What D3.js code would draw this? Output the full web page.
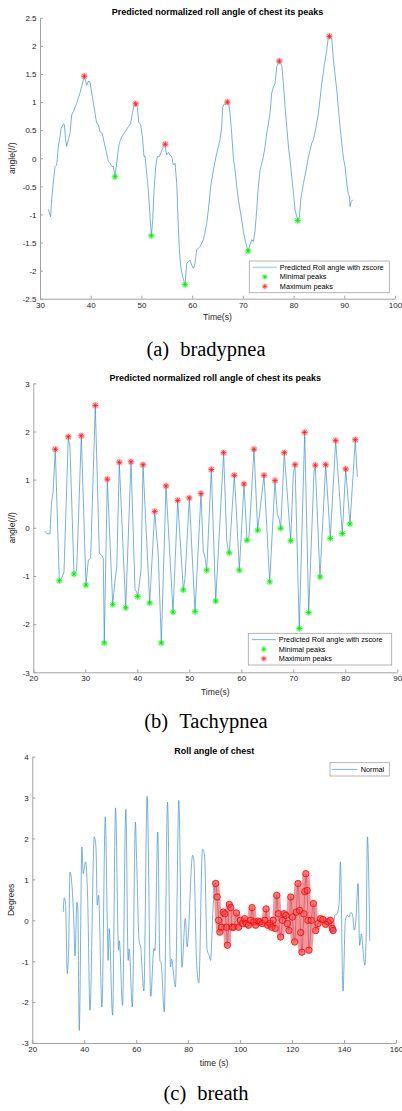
<!DOCTYPE html>
<html>
<head>
<meta charset="utf-8">
<script src="https://cdn.jsdelivr.net/npm/d3@7"></script>
<style>
  html, body { margin: 0; padding: 0; background: #fff; }
  svg { display: block; font-family: "Liberation Sans", Arial, Helvetica, sans-serif; }
</style>
</head>
<body>
<svg id="fig" width="402" height="1111"></svg>
<script>
// ---------- (a) bradypnea ----------
const timeA = [31.64, 32.1, 32.3, 32.63, 32.96, 33.29, 33.42, 33.62, 33.94, 34.14, 34.6, 34.8, 35.06, 35.26, 35.59, 35.92, 36.25, 36.57, 37.23, 37.89, 38.35, 38.74, 39.2, 39.53, 39.86, 40.32, 40.85, 41.18, 41.51, 41.83, 42.29, 42.82, 43.28, 43.48, 43.81, 44.2, 44.46, 44.79, 45.12, 45.45, 45.65, 46.11, 46.77, 47.42, 47.88, 48.21, 48.54, 48.87, 49.2, 49.46, 49.86, 50.25, 50.51, 50.71, 51.3, 51.7, 51.96, 52.22, 52.49, 52.81, 53.14, 53.54, 54.33, 54.59, 54.98, 55.31, 55.64, 55.97, 56.3, 56.63, 56.96, 57.28, 57.48, 57.75, 58.14, 58.6, 58.93, 59.26, 59.59, 59.91, 60.24, 60.57, 60.9, 61.56, 62.22, 62.87, 63.2, 63.66, 64.19, 64.71, 65.5, 65.83, 66.03, 66.29, 66.69, 66.95, 67.21, 67.48, 67.8, 68.13, 68.46, 68.79, 69.12, 69.45, 69.78, 70.11, 70.43, 70.76, 71.03, 71.42, 71.75, 72.08, 72.41, 72.73, 73.06, 73.39, 74.05, 74.38, 74.71, 75.36, 75.69, 76.02, 76.35, 76.68, 77.21, 77.67, 78.0, 78.32, 78.65, 79.05, 79.31, 79.64, 79.97, 80.3, 80.82, 81.15, 81.41, 81.94, 82.47, 82.93, 83.12, 83.58, 83.91, 84.44, 84.9, 85.56, 86.02, 86.54, 86.87, 87.2, 87.53, 87.86, 88.51, 89.17, 89.5, 89.83, 90.16, 90.49, 90.82, 91.01, 91.14, 91.34, 91.67];
const angleA = [-0.91, -1.04, -0.74, -0.42, -0.15, -0.12, 0, 0.22, 0.38, 0.53, 0.61, 0.6, 0.33, 0.21, 0.33, 0.44, 0.77, 0.83, 0.98, 1.16, 1.33, 1.46, 1.30, 1.37, 1.36, 1.10, 0.80, 0.62, 0.60, 0.47, 0.44, 0.21, 0.03, -0.06, -0.09, -0.15, -0.14, -0.33, -0.09, 0.15, 0.27, 0.38, 0.47, 0.56, 0.62, 0.80, 0.93, 0.97, 0.91, 0.64, 0.60, 0.33, 0.03, 0.04, -0.5, -1.04, -1.38, -1.10, -0.57, -0.15, 0.03, 0.03, 0.21, 0.25, 0.06, 0.10, 0.06, 0.03, -0.12, -0.09, -0.45, -1.22, -1.63, -1.93, -2.11, -2.25, -1.87, -1.84, -1.81, -1.90, -1.96, -1.87, -1.63, -1.57, -1.45, -1.16, -0.92, -0.50, -0.21, 0.03, 0.33, 0.56, 0.91, 0.96, 0.97, 1.0, 0.97, 0.80, 0.44, 0, -0.21, -0.50, -0.74, -0.92, -1.10, -1.31, -1.45, -1.57, -1.65, -1.54, -1.45, -1.48, -1.28, -0.92, -0.50, -0.21, 0.03, 0.21, 0.44, 0.80, 1.16, 1.27, 1.33, 1.63, 1.73, 1.65, 1.33, 0.91, 0.56, 0.15, -0.03, -0.33, -0.62, -0.92, -1.11, -1.04, -0.74, -0.45, -0.21, 0.03, 0.09, 0.27, 0.33, 0.56, 0.80, 1.33, 1.63, 1.93, 2.16, 2.17, 2.13, 1.75, 1.22, 0.56, 0.27, 0, -0.15, -0.45, -0.65, -0.67, -0.86, -0.77, -0.74];
const maxTimeA = [38.74, 48.87, 54.7, 66.95, 77.2, 87.07];
const maxAngleA = [1.46, 0.97, 0.25, 1.0, 1.73, 2.17];
const minTimeA = [44.79, 51.96, 58.6, 71.03, 80.82];
const minAngleA = [-0.33, -1.38, -2.25, -1.65, -1.11];
const xTicksA = [30, 40, 50, 60, 70, 80, 90, 100];
const yTicksA = [-2.5, -2, -1.5, -1, -0.5, 0, 0.5, 1, 1.5, 2, 2.5];
const yTickLabelsA = ["-2.5", "-2", "-1.5", "-1", "-0.5", "0", "0.5", "1", "1.5", "2", "2.5"];

// ---------- (b) tachypnea ----------
const timeB = [22.25, 22.6, 23.2, 23.5, 23.8, 24.23, 25.0, 25.45, 25.9, 26.73, 27.05, 27.83, 28.35, 29.23, 30.13, 30.58, 31.03, 31.92, 32.7, 33.15, 33.46, 33.65, 34.23, 35.27, 35.73, 36.05, 36.54, 37.77, 38.79, 39.56, 39.88, 40.08, 40.72, 41.1, 42.38, 43.35, 44.03, 44.62, 45.52, 46.87, 47.77, 48.85, 49.18, 50.0, 51.1, 52.25, 52.69, 53.0, 53.35, 54.23, 55.08, 56.6, 57.2, 57.5, 57.69, 58.66, 58.98, 59.62, 60.52, 61.1, 61.5, 62.44, 63.15, 64.37, 65.46, 66.48, 66.92, 67.3, 67.58, 68.27, 69.5, 70.0, 70.33, 71.15, 72.19, 72.96, 73.98, 74.23, 75.13, 76.23, 77.12, 78.15, 79.42, 80.08, 80.9, 81.92, 82.31];
const angleB = [-0.07, -0.12, -0.13, 0.52, 0.73, 1.63, -1.10, -1.05, -0.92, 1.89, 1.68, -0.96, -0.88, 1.91, -1.19, -0.67, -0.63, 2.54, -0.53, -0.57, -0.63, -2.39, 1.01, -1.59, -1.08, -0.82, 1.36, -1.66, 1.37, -1.28, -1.33, -1.43, -0.88, 1.31, -1.56, 0.34, -0.57, -2.39, 0.87, -1.75, 0.57, -1.29, -1.05, 0.62, -1.74, 0.71, -0.49, -0.6, -0.88, 1.21, -1.52, 1.56, -0.26, -0.47, -0.52, 1.09, 0.5, -0.88, 0.91, -0.26, -0.17, 1.63, -0.05, 1.09, -1.12, 0.98, 0.3, 0.17, -0.01, 1.56, -0.27, 1.13, 1.31, -2.09, 1.98, -1.76, 1.16, 1.30, -1.02, 1.31, -0.22, 1.81, -0.12, 1.22, 0.08, 1.83, 1.06];
const maxTimeB = [24.23, 26.73, 29.23, 31.92, 34.23, 36.54, 38.79, 41.1, 43.35, 45.52, 47.77, 50.0, 52.25, 54.23, 56.6, 58.66, 60.52, 62.44, 64.37, 66.48, 68.27, 70.33, 72.19, 74.23, 76.23, 78.15, 80.08, 81.92];
const maxAngleB = [1.63, 1.89, 1.91, 2.54, 1.01, 1.36, 1.37, 1.31, 0.34, 0.87, 0.57, 0.62, 0.71, 1.21, 1.56, 1.09, 0.91, 1.63, 1.09, 0.98, 1.56, 1.31, 1.98, 1.30, 1.31, 1.81, 1.22, 1.83];
const minTimeB = [25.0, 27.83, 30.13, 33.65, 35.27, 37.77, 40.08, 42.38, 44.62, 46.87, 48.85, 51.1, 53.35, 55.08, 57.69, 59.62, 61.1, 63.15, 65.46, 67.58, 69.5, 71.15, 72.96, 75.13, 77.12, 79.42, 80.9];
const minAngleB = [-1.10, -0.96, -1.19, -2.39, -1.59, -1.66, -1.43, -1.56, -2.39, -1.75, -1.29, -1.74, -0.88, -1.52, -0.52, -0.88, -0.26, -0.05, -1.12, -0.01, -0.27, -2.09, -1.76, -1.02, -0.22, -0.12, 0.08];
const xTicksB = [20, 30, 40, 50, 60, 70, 80, 90];
const yTicksB = [-3, -2, -1, 0, 1, 2, 3];
const yTickLabelsB = ["-3", "-2", "-1", "0", "1", "2", "3"];

// ---------- (c) breath ----------
const timeC = [31.92, 32.3, 32.8, 33.46, 34.0, 34.5, 35.1, 36.0, 36.45, 37.18, 37.5, 38.08, 39.1, 39.6, 40.5, 41.3, 42.2, 43.85, 44.5, 45.0, 45.5, 46.8, 48.1, 48.85, 49.2, 49.6, 50.9, 52.05, 53.2, 53.5, 54.74, 56.0, 56.9, 57.3, 58.5, 59.7, 60.1, 61.15, 61.7, 62.95, 64.2, 65.6, 66.8, 67.2, 68.3, 69.1, 69.6, 70.8, 72.05, 73.2, 73.6, 75.1, 76.4, 77.6, 78.9, 79.6, 81.7, 82.2, 83.2, 84.1, 85.5, 86.3, 87.3, 88.1, 88.6, 89.6, 90.3,
  90.6, 91.15, 91.7, 92.2, 92.8, 93.5, 94.1, 94.7, 95.1, 95.8, 96.4, 96.9, 97.6, 98.6, 99.4, 100.1, 100.9, 101.7, 102.4, 103.2, 104.0, 104.6, 105.3, 106.0, 106.9, 107.6, 108.5, 109.5, 110.0, 110.6, 111.4, 112.1, 112.7, 113.5, 114.1, 114.7, 115.6, 116.3, 116.9, 117.6, 118.2, 118.8, 119.5, 120.1, 121.0, 121.6, 122.3, 122.9, 123.3, 123.8, 124.5, 124.9, 125.3, 125.8, 126.1, 126.5, 127.4, 128.2, 129.1, 130.0, 130.9, 131.9, 132.9, 133.8, 134.7, 135.5, 135.8,
  136.4, 137.3, 138.1, 138.6, 139.6, 140.5, 141.3, 141.9, 142.6, 143.2, 144.0, 144.5, 145.4, 146.0, 146.7, 147.3, 148.0, 148.5, 149.0, 149.9];
const angleC = [0.2, 0.55, 0.41, -1.30, -0.65, 1.18, 0.98, -0.06, -0.87, 0.44, 0.3, -2.69, 1.79, 1.14, 1.43, 0.57, -2.2, 2.04, 1.79, 0.37, 0.61, -2.12, 2.53, 0.0, -0.98, -0.2, -2.32, 2.75, -0.73, -0.5, -2.08, 2.71, -0.98, -0.7, -2.12, 2.4, 1.6, -0.53, -0.65, -1.73, 3.03, -1.86, -0.69, -0.75, 2.16, -0.98, -1.05, -2.24, 2.89, -1.14, -0.95, -1.63, 2.93, -1.15, 0.05, -0.65, 1.59, 1.47, -0.98, -1.53, 1.74, 1.58, -0.73, -0.86, -0.98, 0.32, 0.9,
  0.9, 0.57, 0.0, -0.29, -0.17, 0.2, 0.16, -0.17, -0.61, 0.39, 0.31, -0.17, -0.17, 0.18, -0.17, 0.0, -0.08, 0.04, -0.08, -0.12, 0.0, 0.31, -0.04, -0.12, -0.02, -0.04, -0.08, 0.0, 0.28, -0.12, -0.08, -0.17, 0.0, -0.2, 0.61, 0.16, -0.41, 0.0, 0.16, 0.12, -0.08, -0.25, 0.57, 0.08, -0.53, 0.2, 0.9, 0.24, -0.3, -0.78, 0.16, 0.7, 1.14, 0.73, 0.0, -0.73, 0.0, 0.41, -0.25, -0.08, 0.04, 0.02, -0.1, -0.04, 0.0, -0.2, -0.25,
  0.12, 0.16, 0.41, 1.43, -1.73, 0.0, 0.12, 0.08, 0.19, 0.15, -0.24, -0.04, 0.9, -0.61, -0.33, -0.73, -1.1, -0.4, 2.04, -0.5];
const highlightC = [90.6, 135.8];   // time window whose samples are marked in red
const xTicksC = [20, 40, 60, 80, 100, 120, 140, 160];
const yTicksC = [-3, -2, -1, 0, 1, 2, 3, 4];
const yTickLabelsC = ["-3", "-2", "-1", "0", "1", "2", "3", "4"];

// ---------- drawing ----------
const svg = d3.select("#fig");
const LINE_BLUE = "#2f88cc";
const AXIS_GREY = "#a3a3a3";
const TEXT_GREY = "#262626";
const TICK_FONT = 8;
const LABEL_FONT = 8.6;
const TITLE_FONT = 9;
const LEGEND_FONT = 7.3;

function asteriskPath(s) {
  const k = s * 0.72;
  return `M${-s},0L${s},0M0,${-s}L0,${s}M${-k},${-k}L${k},${k}M${-k},${k}L${k},${-k}`;
}

function drawAsterisks(g, x, y, ts, vs, color, halo) {
  const pts = d3.zip(ts, vs);
  g.append("g").selectAll("circle").data(pts).join("circle")
    .attr("cx", d => x(d[0])).attr("cy", d => y(d[1]))
    .attr("r", 3.5).attr("fill", halo).attr("opacity", 0.45);
  g.append("g").selectAll("path").data(pts).join("path")
    .attr("transform", d => `translate(${x(d[0])},${y(d[1])})`)
    .attr("d", asteriskPath(2.7))
    .attr("stroke", color).attr("stroke-width", 0.8).attr("fill", "none");
}

function drawAxes(g, x, y, p) {
  const bottom = g.append("g")
    .attr("transform", `translate(0,${p.bottom})`)
    .call(d3.axisBottom(x).tickValues(p.xTicks).tickFormat(d3.format("d"))
      .tickSizeInner(-3).tickSizeOuter(0).tickPadding(3.5));
  const left = g.append("g")
    .attr("transform", `translate(${p.left},0)`)
    .call(d3.axisLeft(y).tickValues(p.yTicks).tickFormat((d, i) => p.yLabels[i])
      .tickSizeInner(-3).tickSizeOuter(0).tickPadding(3.5));
  [bottom, left].forEach(a => {
    a.select(".domain").attr("stroke", AXIS_GREY).attr("stroke-width", 1);
    a.selectAll(".tick line").attr("stroke", AXIS_GREY).attr("stroke-width", 1);
    a.selectAll(".tick text").attr("fill", TEXT_GREY).attr("font-size", TICK_FONT)
      .attr("font-family", "Liberation Sans, Arial, sans-serif");
  });
  left.selectAll(".tick text").attr("dy", "0.35em");
}

function drawTexts(g, p) {
  const cx = (p.left + p.right) / 2;
  g.append("text").attr("x", cx).attr("y", p.titleY).attr("text-anchor", "middle")
    .attr("font-weight", "bold").attr("font-size", TITLE_FONT).attr("fill", "#000").text(p.title);
  g.append("text").attr("x", cx).attr("y", p.xLabelY).attr("text-anchor", "middle")
    .attr("font-size", LABEL_FONT).attr("fill", TEXT_GREY).text(p.xLabel);
  g.append("text").attr("transform", `translate(${p.yLabelX},${(p.top + p.bottom) / 2}) rotate(-90)`)
    .attr("text-anchor", "middle").attr("font-size", LABEL_FONT).attr("fill", TEXT_GREY).text(p.yLabel);
  const cap = g.append("text").attr("x", 206).attr("y", p.captionY).attr("text-anchor", "middle")
    .attr("font-family", "Liberation Serif, Times New Roman, serif").attr("font-size", 20.5).attr("fill", "#000");
  cap.append("tspan").text(p.captionTag);
  cap.append("tspan").attr("dx", 11).text(p.captionName);
}

function drawPeakLegend(g, box, sample) {
  g.append("rect").attr("x", box.x).attr("y", box.y).attr("width", box.w).attr("height", box.h)
    .attr("fill", "#fff").attr("stroke", AXIS_GREY).attr("stroke-width", 0.8);
  const rowY = [box.y + box.h * 0.2, box.y + box.h * 0.5, box.y + box.h * 0.8];
  const sx0 = box.x + 3.5, sx1 = box.x + 27.5, tx = box.x + 30.5, mx = (sx0 + sx1) / 2;
  g.append("line").attr("x1", sx0).attr("x2", sx1).attr("y1", rowY[0]).attr("y2", rowY[0])
    .attr("stroke", sample.color).attr("stroke-width", sample.width);
  [["#00e000", "#7dff7d", 1], ["#ff2020", "#ff9a9a", 2]].forEach(([c, h, r]) => {
    g.append("circle").attr("cx", mx).attr("cy", rowY[r]).attr("r", 3.1).attr("fill", h).attr("opacity", 0.45);
    g.append("path").attr("transform", `translate(${mx},${rowY[r]})`).attr("d", asteriskPath(2.3))
      .attr("stroke", c).attr("stroke-width", 0.7).attr("fill", "none");
  });
  const labels = ["Predicted Roll angle with zscore", "Minimal peaks", "Maximum peaks"];
  labels.forEach((t, i) => g.append("text").attr("x", tx).attr("y", rowY[i]).attr("dy", "0.35em")
    .attr("font-size", LEGEND_FONT).attr("fill", "#000").text(t));
}

function peakPanel(p) {
  const g = svg.append("g");
  const x = d3.scaleLinear().domain(p.xDomain).range([p.left, p.right]);
  const y = d3.scaleLinear().domain(p.yDomain).range([p.bottom, p.top]);
  drawAxes(g, x, y, p);
  const line = d3.line().x(d => x(d[0])).y(d => y(d[1]));
  g.append("path").datum(d3.zip(p.time, p.value)).attr("d", line)
    .attr("fill", "none").attr("stroke", LINE_BLUE).attr("stroke-width", 0.65).attr("stroke-linejoin", "round");
  drawAsterisks(g, x, y, p.minT, p.minV, "#00e600", "#6dff6d");
  drawAsterisks(g, x, y, p.maxT, p.maxV, "#ff1a1a", "#ff8f8f");
  drawPeakLegend(g, p.legend, p.sample);
  drawTexts(g, p);
}

peakPanel({
  left: 40, right: 395, top: 17.8, bottom: 298.7,
  xDomain: [30, 100], yDomain: [-2.5, 2.5], xTicks: xTicksA, yTicks: yTicksA, yLabels: yTickLabelsA,
  time: timeA, value: angleA, minT: minTimeA, minV: minAngleA, maxT: maxTimeA, maxV: maxAngleA,
  legend: { x: 249.3, y: 261, w: 140, h: 31.7 }, sample: { color: "#b5d3ee", width: 1.6 },
  title: "Predicted normalized roll angle of chest its peaks", titleY: 15,
  xLabelY: 320.2, xLabel: "Time(s)", yLabel: "angle(//)", yLabelX: 15,
  captionTag: "(a)", captionName: "bradypnea", captionY: 356
});

peakPanel({
  left: 33.3, right: 397.3, top: 383.3, bottom: 672.3,
  xDomain: [20, 90], yDomain: [-3, 3], xTicks: xTicksB, yTicks: yTicksB, yLabels: yTickLabelsB,
  time: timeB, value: angleB, minT: minTimeB, minV: minAngleB, maxT: maxTimeB, maxV: maxAngleB,
  legend: { x: 248.3, y: 633.3, w: 143.4, h: 31.7 }, sample: { color: "#5a9fd6", width: 0.8 },
  title: "Predicted normalized roll angle of chest its peaks", titleY: 380.8,
  xLabelY: 694.8, xLabel: "Time(s)", yLabel: "angle(//)", yLabelX: 15,
  captionTag: "(b)", captionName: "Tachypnea", captionY: 728
});

// (c) roll angle with the marked window
(function () {
  const p = {
    left: 32.3, right: 396, top: 756.7, bottom: 1043,
    xTicks: xTicksC, yTicks: yTicksC, yLabels: yTickLabelsC,
    title: "Roll angle of chest", titleY: 753.8,
    xLabel: "time (s)", xLabelY: 1065.8, yLabel: "Degrees", yLabelX: 14,
    captionTag: "(c)", captionName: "breath", captionY: 1100
  };
  const g = svg.append("g");
  const x = d3.scaleLinear().domain([20, 160]).range([p.left, p.right]);
  const y = d3.scaleLinear().domain([-3, 4]).range([p.bottom, p.top]);
  drawAxes(g, x, y, p);
  const pts = d3.zip(timeC, angleC);
  const line = d3.line().x(d => x(d[0])).y(d => y(d[1])).curve(d3.curveMonotoneX);
  g.append("path").datum(pts).attr("d", line)
    .attr("fill", "none").attr("stroke", LINE_BLUE).attr("stroke-width", 0.65);
  const marked = pts.filter(d => d[0] >= highlightC[0] && d[0] <= highlightC[1]);
  // marker trail: a wide translucent stroke under circle markers at each sample
  g.append("path").datum(marked).attr("d", line)
    .attr("fill", "none").attr("stroke", "#ff2a2a").attr("stroke-width", 6.4)
    .attr("stroke-linecap", "round").attr("stroke-linejoin", "round").attr("opacity", 0.5);
  g.append("g").selectAll("circle").data(marked).join("circle")
    .attr("cx", d => x(d[0])).attr("cy", d => y(d[1])).attr("r", 3.2)
    .attr("fill", "rgba(255,60,60,0.35)").attr("stroke", "#ff0000").attr("stroke-width", 0.8);
  // legend
  const lg = g.append("g");
  lg.append("rect").attr("x", 330).attr("y", 762.7).attr("width", 59.3).attr("height", 13.3)
    .attr("fill", "#fff").attr("stroke", AXIS_GREY).attr("stroke-width", 0.8);
  lg.append("line").attr("x1", 331.7).attr("x2", 357.3).attr("y1", 769.4).attr("y2", 769.4)
    .attr("stroke", "#5a9fd6").attr("stroke-width", 0.8);
  lg.append("text").attr("x", 360.7).attr("y", 769.4).attr("dy", "0.35em")
    .attr("font-size", LEGEND_FONT).attr("fill", "#000").text("Normal");
  drawTexts(g, p);
})();
</script>
</body>
</html>
